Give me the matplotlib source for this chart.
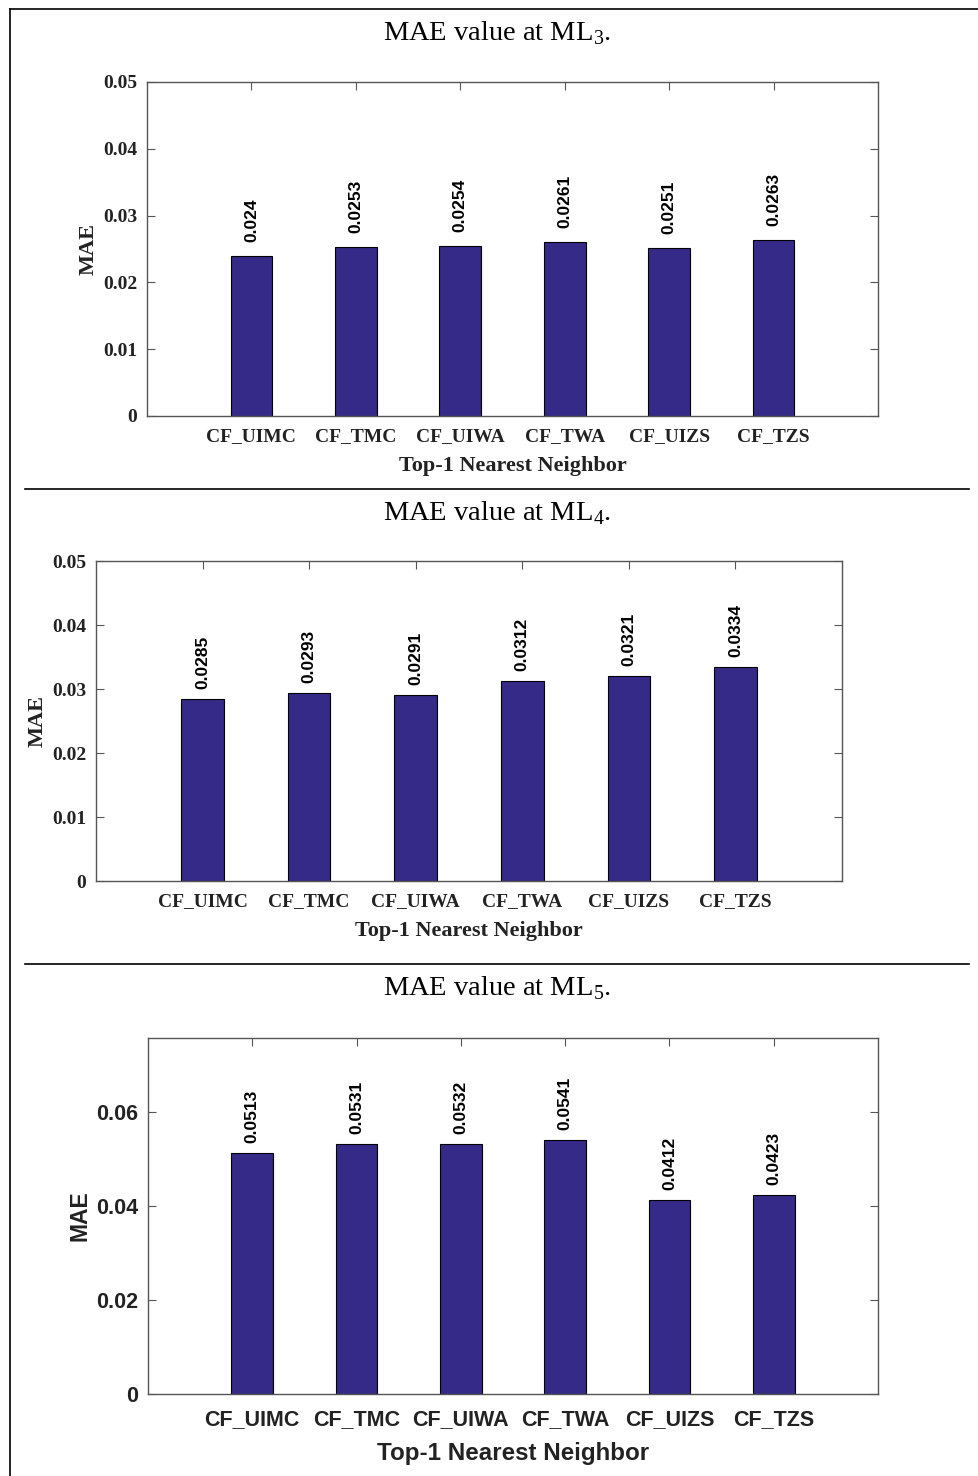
import matplotlib
matplotlib.use("Agg")
import matplotlib.pyplot as plt
from matplotlib.lines import Line2D

plt.rcParams["mathtext.fontset"] = "custom"
plt.rcParams["mathtext.rm"] = "Liberation Serif"

# Method names and MAE results for the three memory levels
methods = ["CF_UIMC", "CF_TMC", "CF_UIWA", "CF_TWA", "CF_UIZS", "CF_TZS"]
mae_ml3 = [0.024, 0.0253, 0.0254, 0.0261, 0.0251, 0.0263]
mae_ml4 = [0.0285, 0.0293, 0.0291, 0.0312, 0.0321, 0.0334]
mae_ml5 = [0.0513, 0.0531, 0.0532, 0.0541, 0.0412, 0.0423]
label_ml3 = ["0.024", "0.0253", "0.0254", "0.0261", "0.0251", "0.0263"]
label_ml4 = ["0.0285", "0.0293", "0.0291", "0.0312", "0.0321", "0.0334"]
label_ml5 = ["0.0513", "0.0531", "0.0532", "0.0541", "0.0412", "0.0423"]
yticks_a = [0, 0.01, 0.02, 0.03, 0.04, 0.05]
yticklabels_a = ["0", "0.01", "0.02", "0.03", "0.04", "0.05"]
yticks_b = [0, 0.02, 0.04, 0.06]
yticklabels_b = ["0", "0.02", "0.04", "0.06"]

BAR = "#352a87"
SPINE = "#555555"
W, H = 979, 1476

fig = plt.figure(figsize=(W / 100, H / 100), dpi=100)


def px_axes(left, top, right, bottom):
    return fig.add_axes([left / W, 1 - bottom / H, (right - left) / W, (bottom - top) / H])


def panel(ax, vals, labels, ymax, yticks, yticklabels, font, tsize, lsize, ylsize,
          gap, tpad, xlpad):
    x = list(range(1, len(vals) + 1))
    ax.bar(x, vals, width=0.4, color=BAR, edgecolor="black", linewidth=0.8, zorder=2)
    for xi, v, lab in zip(x, vals, labels):
        ax.annotate(lab, (xi, v), xytext=(0, gap), textcoords="offset pixels",
                    rotation=90, ha="center", va="bottom", fontweight="bold",
                    fontsize=12.5, family="Liberation Sans", color="black")
    ax.set_xlim(0, 7)
    ax.set_ylim(0, ymax)
    ax.set_xticks(x)
    ax.set_xticklabels(methods, family=font, fontweight="bold", fontsize=tsize, color="#222222")
    ax.set_yticks(yticks)
    ax.set_yticklabels(yticklabels, family=font, fontweight="bold", fontsize=tsize, color="#222222")
    ax.tick_params(direction="in", length=6, width=0.8, color=SPINE,
                   top=True, right=True, pad=7)
    ax.tick_params(axis="x", pad=tpad)
    for s in ax.spines.values():
        s.set_color(SPINE)
        s.set_linewidth(1.0)
    ax.set_xlabel("Top-1 Nearest Neighbor", family=font, fontweight="bold",
                  fontsize=lsize, color="#222222", labelpad=xlpad)
    ax.set_ylabel("MAE", family=font, fontweight="bold", fontsize=ylsize,
                  color="#222222", labelpad=3)


ax1 = px_axes(147, 82, 878, 416)
panel(ax1, mae_ml3, label_ml3, 0.05, yticks_a, yticklabels_a, "Liberation Serif",
      14, 16, 16, 14, 8.5, 8)

ax2 = px_axes(96, 561, 842, 881)
panel(ax2, mae_ml4, label_ml4, 0.05, yticks_a, yticklabels_a, "Liberation Serif",
      14, 16, 16, 10, 8.5, 8)

ax3 = px_axes(148, 1038, 878, 1394)
panel(ax3, mae_ml5, label_ml5, 0.0757, yticks_b, yticklabels_b, "Liberation Sans",
      15.5, 17.4, 16.5, 10, 10.5, 9)

# Panel captions
for yc, n in [(33, 3), (513, 4), (988, 5)]:
    fig.text(497 / W, 1 - yc / H, r"MAE value at ML$_{\mathregular{%d}}$." % n,
             ha="center", va="center", family="Liberation Serif", fontsize=20.5)

# Page frame and separators
frame = [((10, 979), (9, 9)), ((10, 10), (9, 1476)),
         ((25, 969), (489, 489)), ((25, 969), (964, 964))]
for xs, ys in frame:
    fig.add_artist(Line2D([x / W for x in xs], [1 - y / H for y in ys],
                          color="black", linewidth=1.2, transform=fig.transFigure))

fig.savefig("out.png", dpi=100)
